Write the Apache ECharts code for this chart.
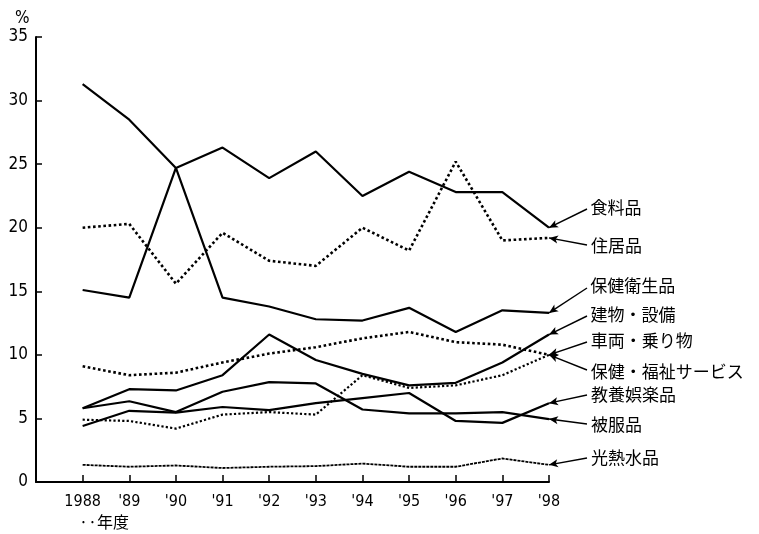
<!DOCTYPE html>
<html>
<head>
<meta charset="utf-8">
<script src="https://cdn.jsdelivr.net/npm/echarts@6/dist/echarts.min.js"></script>
<style>
html,body{margin:0;padding:0;background:#fff;}
#chart{width:759px;height:534px;}
</style>
</head>
<body>
<div id="chart"></div>
<script>
// ---- data ----
var years = [1988, 1989, 1990, 1991, 1992, 1993, 1994, 1995, 1996, 1997, 1998];
var yearLabels = ['1988', "'89", "'90", "'91", "'92", "'93", "'94", "'95", "'96", "'97", "'98"];
var yTicks = [0, 5, 10, 15, 20, 25, 30, 35];

var seriesNames = ['食料品', '住居品', '保健衛生品', '建物・設備', '車両・乗り物', '保健・福祉サービス', '教養娯楽品', '被服品', '光熱水品'];
var food      = [31.3, 28.5, 24.7, 26.3, 23.9, 26.0, 22.5, 24.4, 22.8, 22.8, 20.0];
var housing   = [20.0, 20.3, 15.6, 19.6, 17.4, 17.0, 20.0, 18.2, 25.2, 19.0, 19.2];
var healthGoods = [15.1, 14.5, 24.7, 14.5, 13.8, 12.8, 12.7, 13.7, 11.8, 13.5, 13.3];
var building  = [5.8, 7.3, 7.2, 8.4, 11.6, 9.6, 8.5, 7.6, 7.8, 9.4, 11.6];
var vehicle   = [4.9, 4.8, 4.2, 5.3, 5.5, 5.3, 8.4, 7.4, 7.6, 8.4, 10.0];
var welfare   = [9.1, 8.4, 8.6, 9.4, 10.1, 10.6, 11.3, 11.8, 11.0, 10.8, 10.0];
var education = [4.4, 5.6, 5.45, 5.9, 5.65, 6.2, 6.6, 7.0, 4.8, 4.65, 6.2];
var clothing  = [5.8, 6.35, 5.5, 7.1, 7.85, 7.75, 5.7, 5.4, 5.4, 5.5, 4.95];
var utilities = [1.35, 1.2, 1.3, 1.1, 1.2, 1.25, 1.45, 1.2, 1.2, 1.85, 1.35];

var seriesValues = [food, housing, healthGoods, building, vehicle, welfare, education, clothing, utilities];

// ---- layout / style (not data) ----
var lineTypes = ['solid', 'dotted', 'solid', 'solid', 'dotted', 'dotted', 'solid', 'solid', [3, 1]];
var lineWidths = [2.2, 2.6, 2.2, 2.2, 2.2, 2.6, 2.2, 2.2, 1.8];
var labelY = [209, 245, 288, 316, 342, 370, 395, 424, 458];
var labelX = 587;
var cjk = '"Noto Sans CJK JP", "Noto Sans CJK SC", sans-serif';
var numFont = '"Liberation Sans Narrow", "DejaVu Sans Condensed", "Liberation Sans", sans-serif';

var series = seriesNames.map(function (name, i) {
  var vals = seriesValues[i];
  var last = vals.length - 1;
  return {
    name: name,
    type: 'line',
    symbol: 'none',
    silent: true,
    data: years.map(function (y, k) { return [y, vals[k]]; }),
    lineStyle: { color: '#000', width: lineWidths[i], type: lineTypes[i] },
    markLine: {
      silent: true,
      animation: false,
      symbol: ['arrow', 'none'],
      symbolSize: [6, 9],
      lineStyle: { color: '#000', width: 1.4, type: 'solid', curveness: i === 5 ? 0.25 : -0.25 },
      label: {
        show: true,
        position: 'end',
        distance: 4,
        formatter: name,
        color: '#000',
        fontSize: 17,
        fontFamily: cjk
      },
      data: [[
        { coord: [years[last], vals[last]] },
        { x: labelX, y: labelY[i] }
      ]]
    }
  };
});

var chart = echarts.init(document.getElementById('chart'));
chart.setOption({
  animation: false,
  backgroundColor: '#fff',
  title: [
    { text: '%', left: 10, top: 5, textStyle: { fontSize: 17, fontWeight: 'normal', color: '#000', fontFamily: numFont } },
    { text: '··年度', left: 74, top: 509, textStyle: { fontSize: 16, fontWeight: 'normal', color: '#000', fontFamily: cjk } }
  ],
  grid: { left: 36, right: 210, top: 37, bottom: 52, containLabel: false },
  xAxis: {
    type: 'value',
    min: 1987,
    max: 1998,
    interval: 1,
    splitLine: { show: false },
    axisLine: { show: true, lineStyle: { color: '#000', width: 2 } },
    axisTick: { show: true, inside: true, length: 7, lineStyle: { color: '#000', width: 1.5 } },
    axisLabel: {
      color: '#000', fontSize: 16, fontFamily: numFont, margin: 12,
      formatter: function (v) {
        var idx = years.indexOf(v);
        return idx >= 0 ? yearLabels[idx] : '';
      }
    }
  },
  yAxis: {
    type: 'value',
    min: yTicks[0],
    max: yTicks[yTicks.length - 1],
    interval: 5,
    splitLine: { show: false },
    axisLine: { show: true, lineStyle: { color: '#000', width: 2 } },
    axisTick: { show: true, inside: true, length: 6, lineStyle: { color: '#000', width: 1.5 } },
    axisLabel: { color: '#000', fontSize: 17, fontFamily: numFont, margin: 8 }
  },
  series: series
});
</script>
</body>
</html>
